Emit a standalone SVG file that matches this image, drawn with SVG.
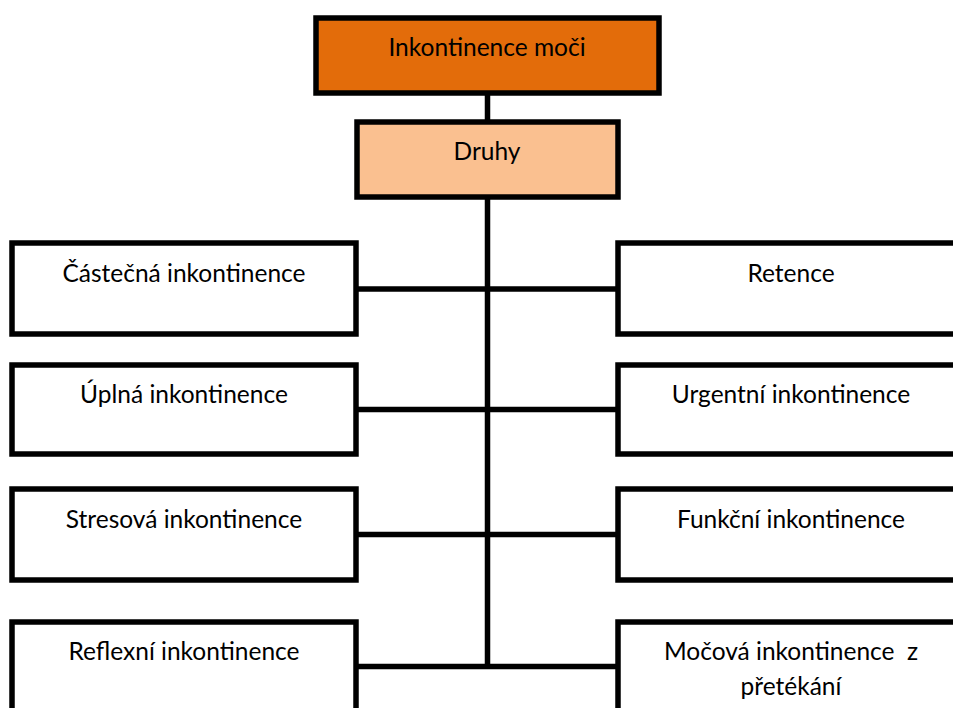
<svg xmlns="http://www.w3.org/2000/svg" width="953" height="708" viewBox="0 0 953 708">
<style>
.box{stroke:#000;stroke-width:5.5;fill:#fff}
.t{font-family:Lato,"Liberation Sans",sans-serif;font-size:24.5px;fill:#000;text-anchor:middle;white-space:pre}
.c{stroke:#000;stroke-width:5.5;fill:none}
</style>
<rect width="953" height="708" fill="#fff"/>
<g id="connectors">
<line class="c" x1="487.5" y1="93" x2="487.5" y2="669"/>
<line class="c" x1="356" y1="289" x2="618" y2="289"/>
<line class="c" x1="356" y1="409.5" x2="618" y2="409.5"/>
<line class="c" x1="356" y1="534.5" x2="618" y2="534.5"/>
<line class="c" x1="356" y1="666.5" x2="618" y2="666.5"/>
</g>
<g id="root">
<rect class="box" x="316" y="18" width="343" height="75" style="fill:#E36C0A"/>
<text class="t" x="487" y="56">Inkontinence moči</text>
</g>
<g id="druhy">
<rect class="box" x="357" y="122" width="261" height="75" style="fill:#FAC090"/>
<text class="t" x="487" y="160">Druhy</text>
</g>
<g id="castecna">
<rect class="box" x="12" y="243" width="344" height="91"/>
<text class="t" x="184" y="282">Částečná inkontinence</text>
</g>
<g id="retence">
<rect class="box" x="618" y="243" width="344" height="91"/>
<text class="t" x="791" y="282">Retence</text>
</g>
<g id="uplna">
<rect class="box" x="12" y="365" width="344" height="89"/>
<text class="t" x="184" y="403">Úplná inkontinence</text>
</g>
<g id="urgentni">
<rect class="box" x="618" y="365" width="344" height="89"/>
<text class="t" x="791" y="403">Urgentní inkontinence</text>
</g>
<g id="stresova">
<rect class="box" x="12" y="489" width="344" height="91"/>
<text class="t" x="184" y="528">Stresová inkontinence</text>
</g>
<g id="funkcni">
<rect class="box" x="618" y="489" width="344" height="91"/>
<text class="t" x="791" y="528">Funkční inkontinence</text>
</g>
<g id="reflexni">
<rect class="box" x="12" y="622" width="344" height="91"/>
<text class="t" x="184" y="660">Reflexní inkontinence</text>
</g>
<g id="prekani">
<rect class="box" x="618" y="622" width="344" height="91"/>
<text class="t" x="791" y="660">Močová inkontinence  z</text>
<text class="t" x="791" y="695">přetékání</text>
</g>
</svg>
